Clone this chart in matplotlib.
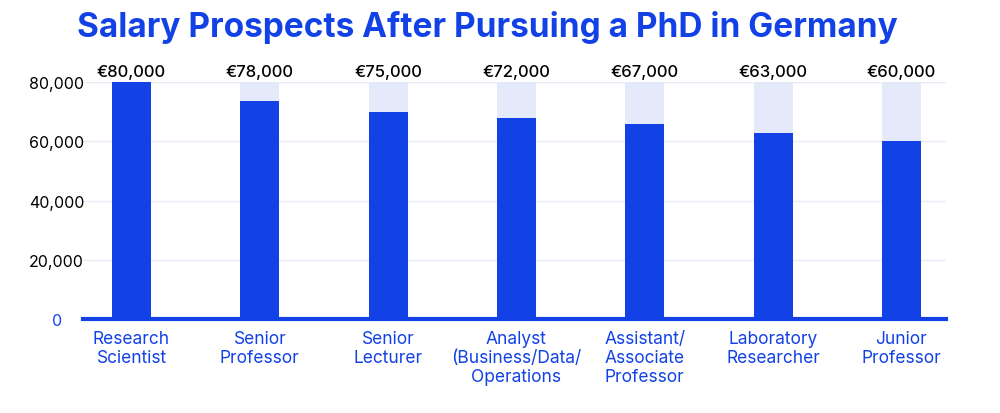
import numpy as np
from matplotlib import pyplot as plt

# Chart data
roles = ["Research\nScientist", "Senior\nProfessor", "Senior\nLecturer",
         "Analyst\n(Business/Data/\nOperations", "Assistant/\nAssociate\nProfessor",
         "Laboratory\nResearcher", "Junior\nProfessor"]
bar_values = [80000, 73500, 70000, 68000, 66000, 63000, 60000]
value_labels = ["€80,000", "€78,000", "€75,000", "€72,000", "€67,000", "€63,000", "€60,000"]
track_max = 80000
y_ticks = [0, 20000, 40000, 60000, 80000]

blue = "#1242E6"
light = "#E4EAFA"

plt.rcParams['font.family'] = ['Inter', 'DejaVu Sans']

fig = plt.figure(figsize=(10, 4.14), dpi=100)
ax = fig.add_axes([0.083, 0.227, 0.863, 0.572])

x = np.arange(len(roles))
width = 0.304

# Background track and main bars
ax.bar(x, [track_max] * len(x), width=width, color=light, zorder=1)
ax.bar(x, bar_values, width=width, color=blue, zorder=2)

# Value labels above bars
for xi, lab in zip(x, value_labels):
    ax.text(xi, track_max + 1200, lab, ha='center', va='bottom',
            fontsize=12, color='black', fontweight='medium')

ax.set_xlim(-0.378, len(x) - 1 + 0.347)
ax.set_ylim(0, 80000)

# Grid
ax.set_yticks(y_ticks)
ax.yaxis.grid(True, color="#E8ECF7", linewidth=1, zorder=0)
ax.set_axisbelow(True)
ax.axhline(0, color=blue, linewidth=3, zorder=3, clip_on=False)

ax.set_yticklabels([f"{v:,}" for v in y_ticks], fontsize=11.5, ha='center')
for t in ax.get_yticklabels():
    t.set_color('black')
ax.get_yticklabels()[0].set_color(blue)
ax.tick_params(axis='y', length=0, pad=19)

ax.set_xticks(x)
ax.set_xticklabels(roles, fontsize=12.5, color=blue, linespacing=1.15)
ax.tick_params(axis='x', length=0, pad=8)

for s in ax.spines.values():
    s.set_visible(False)

fig.text(0.487, 0.933, "Salary Prospects After Pursuing a PhD in Germany",
         ha='center', va='center', fontsize=24, fontweight='bold', color=blue)

plt.savefig("out.png", dpi=100)
plt.close()
